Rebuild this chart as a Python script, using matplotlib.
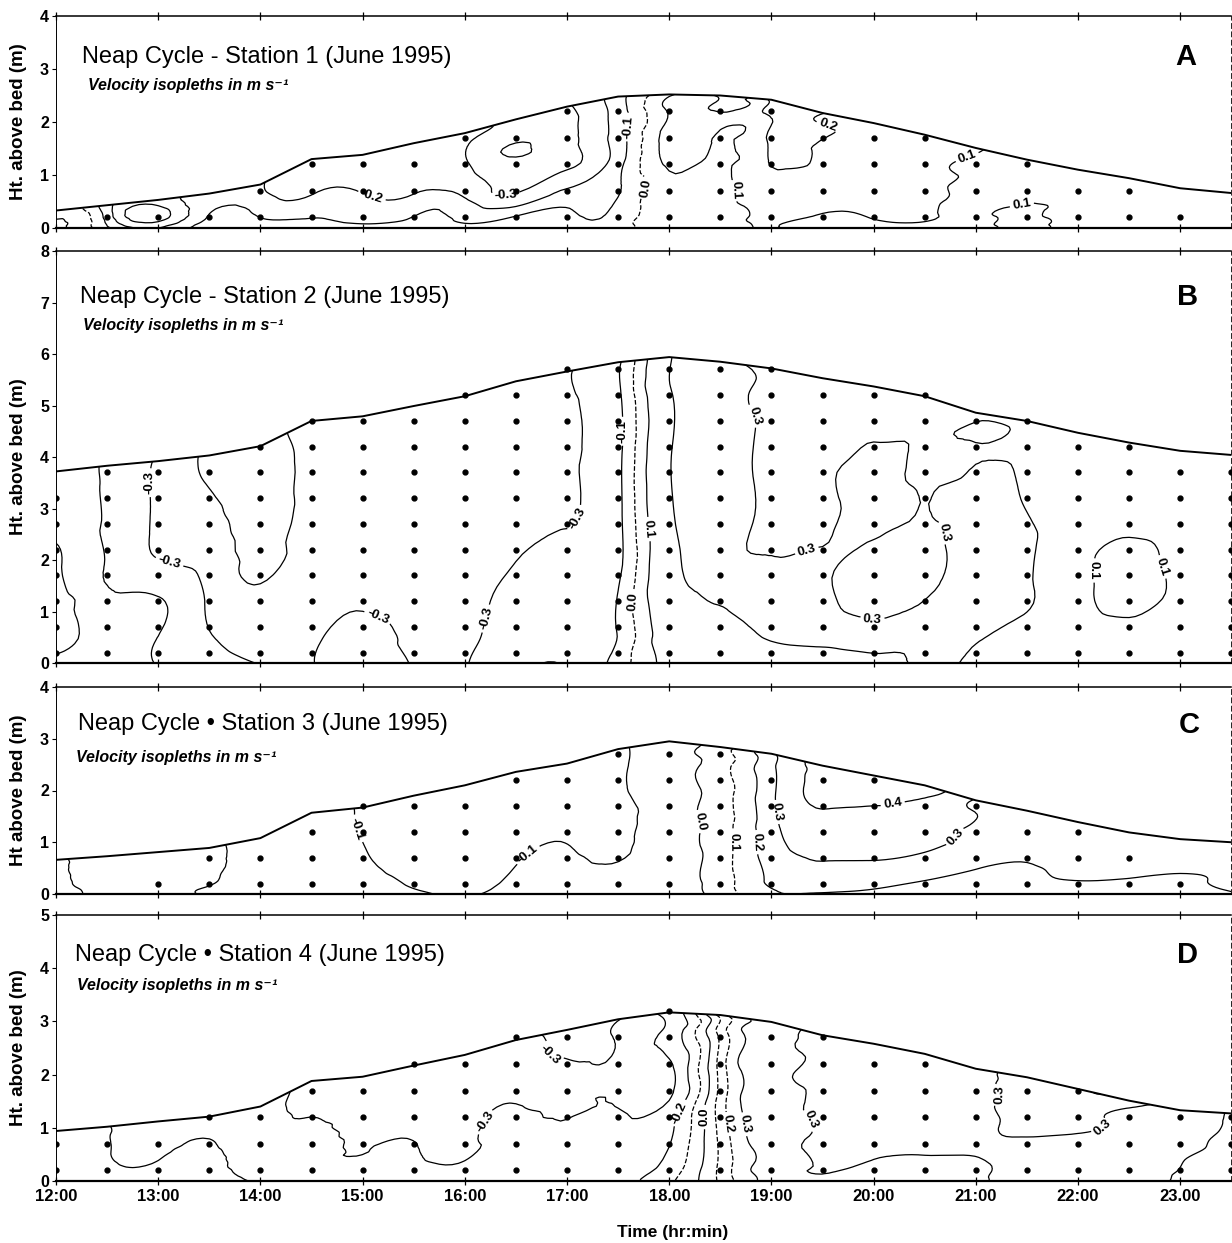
import numpy as np
import matplotlib
matplotlib.use("Agg")
import matplotlib.pyplot as plt
import matplotlib.tri as mtri

plt.rcParams['font.family'] = ['Liberation Sans', 'DejaVu Sans']

# ---------------- data ----------------
times = [12.0, 12.5, 13.0, 13.5, 14.0, 14.5, 15.0, 15.5, 16.0, 16.5, 17.0, 17.5,
         18.0, 18.5, 19.0, 19.5, 20.0, 20.5, 21.0, 21.5, 22.0, 22.5, 23.0, 23.5]
xtick_hours = [12, 13, 14, 15, 16, 17, 18, 19, 20, 21, 22, 23]
xtick_labels = ["12:00", "13:00", "14:00", "15:00", "16:00", "17:00",
                "18.00", "19:00", "20:00", "21:00", "22:00", "23.00"]
sigma = [0.0, 0.1, 0.3, 0.5, 0.7, 0.9, 1.0]          # fraction of water depth
dot_rows = [0.2, 0.7, 1.2, 1.7, 2.2, 2.7, 3.2, 3.7, 4.2, 4.7, 5.2, 5.7]

# Station 1 (A)
surf_A = [0.33, 0.43, 0.53, 0.65, 0.82, 1.30, 1.38, 1.60, 1.79, 2.05, 2.29, 2.48,
          2.52, 2.50, 2.42, 2.17, 1.98, 1.76, 1.51, 1.29, 1.10, 0.94, 0.75, 0.66]
ndots_A = [0, 1, 1, 1, 2, 3, 3, 3, 4, 4, 5, 5, 5, 5, 5, 4, 4, 4, 3, 3, 2, 2, 1, 0]
vel_A = [
    [0.12, 0.12, 0.11, 0.10, 0.09, 0.08, 0.08],
    [-0.08, -0.10, -0.12, -0.14, -0.15, -0.16, -0.16],
    [-0.20, -0.24, -0.33, -0.36, -0.33, -0.27, -0.25],
    [-0.04, -0.06, -0.09, -0.11, -0.13, -0.15, -0.16],
    [-0.04, -0.07, -0.11, -0.14, -0.17, -0.19, -0.19],
    [-0.04, -0.09, -0.14, -0.205, -0.24, -0.25, -0.25],
    [-0.05, -0.12, -0.16, -0.205, -0.25, -0.27, -0.27],
    [-0.04, -0.09, -0.16, -0.22, -0.26, -0.27, -0.27],
    [-0.05, -0.12, -0.19, -0.26, -0.29, -0.29, -0.28],
    [-0.04, -0.09, -0.29, -0.34, -0.41, -0.34, -0.32],
    [-0.04, -0.08, -0.18, -0.31, -0.33, -0.32, -0.31],
    [-0.05, -0.07, -0.11, -0.14, -0.15, -0.15, -0.14],
    [0.04, 0.06, 0.08, 0.12, 0.14, 0.12, 0.08],
    [0.02, 0.05, 0.08, 0.08, 0.09, 0.08, 0.08],
    [0.11, 0.13, 0.16, 0.205, 0.22, 0.23, 0.22],
    [0.04, 0.09, 0.13, 0.15, 0.17, 0.205, 0.21],
    [0.04, 0.105, 0.14, 0.15, 0.15, 0.15, 0.15],
    [0.06, 0.11, 0.13, 0.14, 0.14, 0.14, 0.14],
    [0.06, 0.08, 0.07, 0.07, 0.08, 0.095, 0.11],
    [0.12, 0.12, 0.11, 0.08, 0.07, 0.07, 0.07],
    [0.07, 0.07, 0.06, 0.06, 0.06, 0.06, 0.06],
    [0.06, 0.06, 0.06, 0.06, 0.06, 0.06, 0.06],
    [0.05, 0.05, 0.05, 0.05, 0.05, 0.05, 0.05],
    [0.05, 0.05, 0.05, 0.05, 0.05, 0.05, 0.05],
]
levels_A = [-0.4, -0.3, -0.2, -0.1, 0.0, 0.1, 0.2]

# Station 2 (B)
surf_B = [3.72, 3.83, 3.92, 4.03, 4.21, 4.70, 4.79, 4.99, 5.18, 5.47, 5.66, 5.84,
          5.94, 5.85, 5.72, 5.53, 5.37, 5.18, 4.86, 4.70, 4.47, 4.28, 4.12, 4.04]
ndots_B = [7, 8, 8, 8, 9, 10, 10, 10, 11, 11, 12, 12, 12, 12, 12, 11, 11, 11, 10, 10, 9, 9, 8, 8]
vel_B = [
    [-0.06, -0.13, -0.14, -0.12, -0.07, -0.05, -0.05],
    [-0.05, -0.06, -0.07, -0.11, -0.12, -0.12, -0.12],
    [-0.105, -0.11, -0.08, -0.29, -0.33, -0.34, -0.33],
    [-0.20, -0.27, -0.33, -0.38, -0.45, -0.52, -0.53],
    [-0.31, -0.38, -0.46, -0.54, -0.56, -0.56, -0.55],
    [-0.31, -0.33, -0.38, -0.42, -0.44, -0.45, -0.45],
    [-0.20, -0.24, -0.34, -0.38, -0.40, -0.40, -0.40],
    [-0.31, -0.34, -0.38, -0.40, -0.42, -0.42, -0.42],
    [-0.31, -0.34, -0.37, -0.40, -0.42, -0.42, -0.41],
    [-0.15, -0.20, -0.27, -0.34, -0.38, -0.39, -0.38],
    [-0.11, -0.15, -0.22, -0.31, -0.32, -0.32, -0.31],
    [-0.06, -0.095, -0.12, -0.13, -0.13, -0.12, -0.12],
    [0.12, 0.18, 0.24, 0.27, 0.28, 0.29, 0.28],
    [0.12, 0.25, 0.32, 0.37, 0.40, 0.38, 0.36],
    [0.20, 0.32, 0.33, 0.27, 0.25, 0.25, 0.25],
    [0.22, 0.33, 0.32, 0.27, 0.26, 0.26, 0.26],
    [0.25, 0.33, 0.22, 0.33, 0.33, 0.27, 0.26],
    [0.32, 0.31, 0.27, 0.28, 0.28, 0.27, 0.27],
    [0.27, 0.305, 0.33, 0.35, 0.34, 0.31, 0.29],
    [0.20, 0.26, 0.31, 0.32, 0.28, 0.26, 0.26],
    [0.18, 0.22, 0.17, 0.18, 0.22, 0.24, 0.24],
    [0.20, 0.18, 0.03, 0.05, 0.20, 0.22, 0.22],
    [0.18, 0.20, 0.16, 0.17, 0.22, 0.22, 0.22],
    [0.20, 0.22, 0.22, 0.22, 0.22, 0.22, 0.22],
]
levels_B = [-0.5, -0.3, -0.1, 0.0, 0.1, 0.3]

# Station 3 (C)
surf_C = [0.66, 0.73, 0.81, 0.89, 1.08, 1.57, 1.67, 1.90, 2.10, 2.36, 2.52, 2.80,
          2.95, 2.84, 2.71, 2.48, 2.29, 2.10, 1.81, 1.61, 1.39, 1.19, 1.06, 1.00]
ndots_C = [0, 0, 1, 2, 2, 3, 4, 4, 4, 5, 5, 6, 6, 6, 5, 5, 5, 4, 4, 3, 3, 2, 1, 0]
vel_C = [
    [-0.03, -0.03, -0.03, -0.03, -0.03, -0.03, -0.03],
    [0.02, 0.02, 0.03, 0.03, 0.03, 0.03, 0.03],
    [0.03, 0.03, 0.03, 0.03, 0.03, 0.03, 0.03],
    [-0.01, -0.01, 0.01, 0.02, 0.03, 0.03, 0.03],
    [-0.04, -0.05, -0.05, -0.06, -0.06, -0.06, -0.06],
    [-0.05, -0.06, -0.07, -0.08, -0.08, -0.09, -0.09],
    [-0.05, -0.06, -0.08, -0.095, -0.105, -0.11, -0.11],
    [-0.08, -0.11, -0.14, -0.15, -0.16, -0.16, -0.16],
    [-0.11, -0.13, -0.15, -0.16, -0.17, -0.17, -0.17],
    [-0.06, -0.08, -0.11, -0.14, -0.16, -0.16, -0.16],
    [-0.04, -0.06, -0.09, -0.12, -0.14, -0.14, -0.14],
    [-0.05, -0.08, -0.11, -0.12, -0.11, -0.11, -0.11],
    [-0.03, -0.04, -0.05, -0.05, -0.05, -0.05, -0.05],
    [0.04, 0.05, 0.05, 0.05, 0.05, 0.05, 0.05],
    [0.19, 0.22, 0.25, 0.27, 0.28, 0.28, 0.28],
    [0.19, 0.26, 0.31, 0.36, 0.41, 0.43, 0.43],
    [0.18, 0.23, 0.305, 0.35, 0.39, 0.43, 0.43],
    [0.15, 0.19, 0.27, 0.33, 0.38, 0.41, 0.41],
    [0.12, 0.16, 0.21, 0.26, 0.28, 0.29, 0.29],
    [0.12, 0.17, 0.19, 0.22, 0.25, 0.26, 0.26],
    [0.12, 0.17, 0.22, 0.24, 0.25, 0.25, 0.25],
    [0.12, 0.16, 0.21, 0.24, 0.24, 0.24, 0.24],
    [0.14, 0.17, 0.19, 0.22, 0.23, 0.23, 0.23],
    [0.19, 0.21, 0.22, 0.22, 0.22, 0.22, 0.22],
]
levels_C = [-0.1, 0.0, 0.1, 0.2, 0.3, 0.4]

# Station 4 (D)
surf_D = [0.94, 1.02, 1.12, 1.21, 1.40, 1.88, 1.96, 2.17, 2.37, 2.65, 2.84, 3.04,
          3.17, 3.12, 2.99, 2.74, 2.58, 2.39, 2.11, 1.95, 1.73, 1.51, 1.33, 1.27]
ndots_D = [2, 2, 2, 3, 3, 4, 4, 5, 5, 6, 6, 6, 7, 6, 6, 6, 5, 5, 4, 4, 4, 3, 3, 3]
vel_D = [
    [-0.12, -0.13, -0.14, -0.15, -0.16, -0.17, -0.17],
    [-0.15, -0.16, -0.18, -0.19, -0.19, -0.19, -0.19],
    [-0.13, -0.15, -0.19, -0.23, -0.25, -0.26, -0.26],
    [-0.13, -0.14, -0.16, -0.18, -0.21, -0.24, -0.24],
    [-0.21, -0.23, -0.25, -0.27, -0.28, -0.28, -0.28],
    [-0.22, -0.24, -0.26, -0.28, -0.305, -0.31, -0.31],
    [-0.22, -0.26, -0.305, -0.33, -0.35, -0.35, -0.35],
    [-0.22, -0.26, -0.295, -0.34, -0.36, -0.36, -0.36],
    [-0.22, -0.28, -0.32, -0.34, -0.36, -0.36, -0.36],
    [-0.20, -0.24, -0.27, -0.29, -0.32, -0.34, -0.34],
    [-0.20, -0.24, -0.295, -0.32, -0.33, -0.28, -0.27],
    [-0.22, -0.24, -0.28, -0.31, -0.32, -0.31, -0.295],
    [-0.12, -0.17, -0.22, -0.31, -0.31, -0.28, -0.27],
    [0.12, 0.12, 0.13, 0.14, 0.14, 0.14, 0.14],
    [0.32, 0.34, 0.36, 0.36, 0.35, 0.34, 0.33],
    [0.31, 0.29, 0.27, 0.26, 0.26, 0.26, 0.26],
    [0.34, 0.32, 0.28, 0.27, 0.26, 0.26, 0.26],
    [0.34, 0.33, 0.28, 0.27, 0.26, 0.26, 0.26],
    [0.33, 0.32, 0.29, 0.28, 0.28, 0.28, 0.28],
    [0.24, 0.26, 0.28, 0.31, 0.32, 0.32, 0.32],
    [0.24, 0.26, 0.28, 0.298, 0.31, 0.31, 0.31],
    [0.22, 0.24, 0.26, 0.28, 0.29, 0.298, 0.31],
    [0.32, 0.31, 0.295, 0.28, 0.27, 0.27, 0.27],
    [0.33, 0.33, 0.33, 0.32, 0.32, 0.31, 0.31],
]
levels_D = [-0.3, -0.2, -0.1, 0.0, 0.1, 0.2, 0.3]

# ---------------- layout / styling ----------------
W, H = 1232, 1243
X0, PXH = 56, 102.2          # pixel of 12:00 and pixels per hour

panels = [
    dict(surf=surf_A, ndots=ndots_A, vel=vel_A, levels=levels_A, dashed=[0.0],
         ymax=4, top=16, bot=228, letter="A",
         title="Neap Cycle - Station 1 (June 1995)", ylabel="Ht. above bed (m)",
         tpos=(0.022, 0.807), spos=(0.027, 0.672), lpos=(0.961, 0.807),
         labels=[(15.1, 0.67), (16.4, 0.69), (17.62, 1.9), (17.75, 0.75), (18.62, 0.75),
                 (19.55, 1.9), (20.95, 1.16), (21.45, 0.45)]),
    dict(surf=surf_B, ndots=ndots_B, vel=vel_B, levels=levels_B, dashed=[0.0],
         ymax=8, top=251, bot=663, letter="B",
         title="Neap Cycle - Station 2 (June 1995)", ylabel="Ht. above bed (m)",
         tpos=(0.020, 0.888), spos=(0.023, 0.818), lpos=(0.9626, 0.888),
         labels=[(12.75, 3.5), (13.1, 1.85), (15.15, 0.9), (16.35, 0.8), (17.1, 2.8),
                 (17.55, 4.5), (17.8, 2.6), (17.65, 1.2), (18.95, 4.9), (19.4, 1.85),
                 (20.0, 1.0), (20.95, 2.6), (22.25, 1.8), (22.75, 1.8)]),
    dict(surf=surf_C, ndots=ndots_C, vel=vel_C, levels=levels_C, dashed=[0.1],
         ymax=4, top=687, bot=894, letter="C",
         title="Neap Cycle \u2022 Station 3 (June 1995)", ylabel="Ht above bed (m)",
         tpos=(0.0187, 0.821), spos=(0.017, 0.660), lpos=(0.964, 0.816),
         labels=[(15.0, 1.3), (16.6, 0.8), (18.3, 1.4), (18.6, 1.0), (18.85, 1.0),
                 (19.1, 1.6), (20.2, 1.55), (20.8, 1.1)]),
    dict(surf=surf_D, ndots=ndots_D, vel=vel_D, levels=levels_D, dashed=[-0.1, 0.1, 0.2],
         ymax=5, top=915, bot=1181, letter="D",
         title="Neap Cycle \u2022 Station 4 (June 1995)", ylabel="Ht. above bed (m)",
         tpos=(0.016, 0.850), spos=(0.018, 0.735), lpos=(0.963, 0.850),
         labels=[(16.2, 1.1), (16.8, 2.3), (18.08, 1.3), (18.3, 1.2), (18.65, 1.1),
                 (18.9, 1.1), (19.3, 1.1), (21.35, 1.6), (22.3, 0.8)]),
]

fig = plt.figure(figsize=(W / 100, H / 100), dpi=100)
t_arr = np.array(times)
s_arr = np.array(sigma)
nt, ns = len(t_arr), len(s_arr)

# triangles of the (sigma x time) grid, two per cell
tris = []
for j in range(ns - 1):
    for i in range(nt - 1):
        a = j * nt + i
        b = a + 1
        c = a + nt
        d = c + 1
        tris.append([a, b, d])
        tris.append([a, d, c])
tris = np.array(tris)

for k, p in enumerate(panels):
    left = X0 / W
    width = 11.5 * PXH / W
    bottom = 1 - p["bot"] / H
    height = (p["bot"] - p["top"]) / H
    ax = fig.add_axes([left, bottom, width, height])
    ax.set_xlim(12, 23.5)
    ax.set_ylim(0, p["ymax"])

    surf = np.array(p["surf"])
    X = np.tile(t_arr, (ns, 1))
    Y = s_arr[:, None] * surf[None, :]
    Z = np.array(p["vel"]).T
    tri = mtri.Triangulation(X.ravel(), Y.ravel(), tris)
    interp = mtri.CubicTriInterpolator(tri, Z.ravel(), kind='min_E')
    refiner = mtri.UniformTriRefiner(tri)
    tri_f, z_f = refiner.refine_field(Z.ravel(), triinterpolator=interp, subdiv=3)

    styles = ['--' if lv in p["dashed"] else '-' for lv in p["levels"]]
    cs = ax.tricontour(tri_f, z_f, levels=p["levels"], colors='k', linewidths=0.9,
                       linestyles=styles)
    txts = ax.clabel(cs, p["levels"], inline=True, inline_spacing=3, fontsize=9.5,
                     fmt=lambda v: f"{v:.1f}", manual=p["labels"])
    for t in txts:
        t.set_fontweight('bold')

    # water surface
    ax.plot(times, p["surf"], color='k', lw=1.4, zorder=3)
    # sampling points
    xs, ys = [], []
    for tt, n in zip(times, p["ndots"]):
        for m in range(n):
            xs.append(tt)
            ys.append(dot_rows[m])
    ax.plot(xs, ys, 'o', color='k', ms=3.5, zorder=4)

    # spines and ticks
    ax.spines['bottom'].set_linewidth(1.6)
    ax.spines['top'].set_linewidth(1.1)
    ax.spines['left'].set_linewidth(0.7)
    ax.spines['right'].set_linewidth(0.6)
    ax.spines['right'].set_linestyle((0, (6, 4)))
    ax.set_xticks(xtick_hours)
    ax.tick_params(axis='x', direction='inout', length=6, width=0.9, top=True, bottom=True)
    ax.set_yticks(range(0, p["ymax"] + 1))
    ax.set_yticklabels([str(v) for v in range(0, p["ymax"] + 1)],
                       fontweight='bold', fontsize=11.5)
    ax.tick_params(axis='y', direction='out', length=3, width=0.8, pad=2)
    if k == 3:
        ax.set_xticklabels(xtick_labels, fontweight='bold', fontsize=12)
        ax.tick_params(axis='x', pad=3)
    else:
        ax.set_xticklabels([])
    ax.set_ylabel(p["ylabel"], fontweight='bold', fontsize=13.5)
    ax.yaxis.set_label_coords(-0.025, 0.5)

    ax.text(p["tpos"][0], p["tpos"][1], p["title"], transform=ax.transAxes,
            ha='left', va='center', fontsize=17)
    ax.text(p["spos"][0], p["spos"][1], "Velocity isopleths in m s\u207b\u00b9",
            transform=ax.transAxes, ha='left', va='center', fontsize=11.5,
            fontstyle='italic', fontweight='bold')
    ax.text(p["lpos"][0], p["lpos"][1], p["letter"], transform=ax.transAxes,
            ha='center', va='center', fontsize=21, fontweight='bold')

fig.text(673 / W, 1 - 1233 / H, "Time (hr:min)", ha='center', va='center',
         fontsize=12.5, fontweight='bold')

fig.savefig("out.png", dpi=100)
